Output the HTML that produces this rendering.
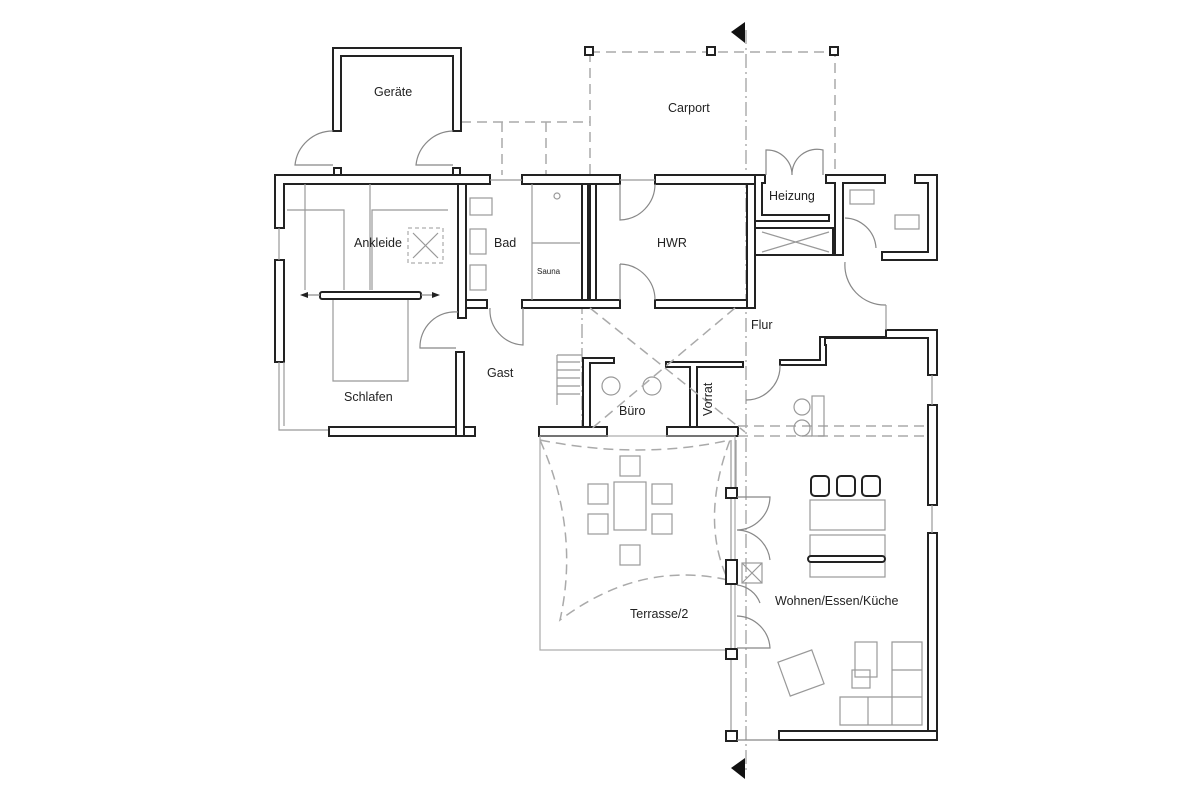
<!DOCTYPE html>
<html><head><meta charset="utf-8"><style>
html,body{margin:0;padding:0;background:#fff}
svg{display:block}
text{font-family:"Liberation Sans",sans-serif;fill:#222}
.w{fill:#fff;stroke:#222;stroke-width:2}
.g{fill:none;stroke:#999;stroke-width:1.2}
.d{fill:none;stroke:#aaa;stroke-width:1.5;stroke-dasharray:10 6}
.dd{fill:none;stroke:#999;stroke-width:1.2;stroke-dasharray:14 4 2 4}
.a{fill:none;stroke:#888;stroke-width:1.2}
</style></head><body>
<svg width="1200" height="796" viewBox="0 0 1200 796" xmlns="http://www.w3.org/2000/svg">
<!-- carport dashed -->
<path class="d" d="M590 52 H835 V175 M590 52 V175 M461 122 H590 M502 122 V175 M546 122 V175"/>
<line class="dd" x1="746" y1="30" x2="746" y2="770"/>
<line class="dd" x1="582" y1="300" x2="582" y2="436"/>
<rect class="w" x="585" y="47" width="8" height="8"/>
<rect class="w" x="707" y="47" width="8" height="8"/>
<rect class="w" x="830" y="47" width="8" height="8"/>
<polygon points="731,32 745,22 745,43" fill="#111"/>
<polygon points="731,768 745,758 745,779" fill="#111"/>
<!-- Geräte -->
<path class="w" d="M333 48 H461 V131 H453 V56 H341 V131 H333 Z"/>
<rect class="w" x="334" y="168" width="7" height="7"/>
<rect class="w" x="453" y="168" width="7" height="7"/>
<path class="a" d="M333 131 A38 38 0 0 0 295 165 H333 M453 131 A38 38 0 0 0 416 165 H453"/>
<!-- left block -->
<path class="w" d="M275 175 H490 V184 H284 V228 H275 Z"/>
<rect class="w" x="275" y="260" width="9" height="102"/>
<path class="g" d="M279 228 V260 M279 362 V430 H329 M284 362 V426"/>
<rect class="w" x="329" y="427" width="146" height="9"/>
<rect class="w" x="456" y="352" width="8" height="84"/>
<rect class="w" x="458" y="184" width="8" height="134"/>
<path class="w" d="M466 300 H487 V308 H466 Z"/>
<rect class="w" x="522" y="175" width="98" height="9"/>
<rect class="w" x="522" y="300" width="98" height="8"/>
<rect class="w" x="582" y="184" width="6" height="116"/>
<rect class="w" x="590" y="184" width="6" height="116"/>
<rect class="w" x="655" y="175" width="100" height="9"/>
<rect class="w" x="747" y="184" width="8" height="124"/>
<rect class="w" x="655" y="300" width="92" height="8"/>
<path class="g" d="M490 180 H522 M620 180 H655"/>
<!-- furniture left -->
<path class="g" d="M287 210 H344 V290 M372 290 V210 H448 M305 184 V290 M370 184 V290 M333 300 V381 H408 V300"/>
<rect x="408" y="228" width="35" height="35" fill="none" stroke="#999" stroke-dasharray="4 3"/>
<path class="g" d="M413 233 L438 258 M438 233 L413 258"/>
<rect class="w" x="320" y="292" width="101" height="7" rx="2"/>
<path d="M300 295 l8 -3 v6 Z M440 295 l-8 -3 v6 Z" fill="#222"/>
<line class="a" x1="308" y1="295" x2="320" y2="295"/><line class="a" x1="421" y1="295" x2="432" y2="295"/>
<!-- bad fixtures -->
<rect class="g" x="470" y="198" width="22" height="17"/>
<rect class="g" x="470" y="229" width="16" height="25"/>
<rect class="g" x="470" y="265" width="16" height="25"/>
<path class="g" d="M532 184 V300 M532 243 H580"/>
<circle class="g" cx="557" cy="196" r="3"/>
<!-- doors -->
<path class="a" d="M458 312 A35 35 0 0 0 420 348 H456 M490 308 A35 35 0 0 0 523 345 V308 M620 184 V220 A36 36 0 0 0 655 184 M620 264 V300 M620 264 A36 36 0 0 1 655 300"/>
<!-- stairs/Büro -->
<path class="g" d="M557 355 H582 M557 355 V405" />
<g class="g"><line x1="557" y1="362" x2="580" y2="362"/><line x1="557" y1="370" x2="580" y2="370"/><line x1="557" y1="378" x2="580" y2="378"/><line x1="557" y1="386" x2="580" y2="386"/><line x1="557" y1="394" x2="580" y2="394"/></g>
<path class="w" d="M583 358 H614 V363 H590 V436 H583 Z"/>
<path class="w" d="M666 362 H743 V367 H697 V436 H690 V367 H666 Z"/>
<rect class="w" x="539" y="427" width="68" height="9"/>
<rect class="w" x="667" y="427" width="71" height="9"/>
<circle class="g" cx="611" cy="386" r="9"/><circle class="g" cx="652" cy="386" r="9"/>
<path class="d" d="M590 308 L745 432 M735 308 L590 430"/>
<!-- Heizung -->
<path class="w" d="M755 175 H765 V183 H762 V215 H829 V221 H755 Z"/>
<path class="w" d="M826 175 H885 V183 H843 V255 H835 V183 H826 Z"/>
<rect class="w" x="755" y="228" width="78" height="27"/>
<path class="g" d="M762 232 L829 252 M829 232 L762 252"/>
<path class="a" d="M766 175 V150 A25 25 0 0 1 792 175 M823 175 V150 A25 25 0 0 0 792 175"/>
<path class="w" d="M915 175 H937 V260 H882 V252 H928 V183 H915 Z"/>
<rect class="g" x="850" y="190" width="24" height="14"/><rect class="g" x="895" y="215" width="24" height="14"/>
<path class="a" d="M845 218 A32 32 0 0 1 876 248 M845 262 A40 40 0 0 0 886 305"/>
<!-- Flur stepped wall -->
<path class="w" d="M780 360 H820 V337 H886 V330 H937 V375 H928 V338 H825 V345 H826 V365 H780 Z"/>
<rect class="w" x="928" y="405" width="9" height="100"/>
<rect class="w" x="928" y="533" width="9" height="207"/>
<rect class="w" x="779" y="731" width="158" height="9"/>
<path class="a" d="M780 365 A34 34 0 0 1 746 400"/>
<path class="d" d="M738 426 H928 M738 436 H928"/>
<path class="g" d="M886 305 V330 M932 375 V405 M932 505 V533"/>
<circle class="g" cx="802" cy="407" r="8"/><circle class="g" cx="802" cy="428" r="8"/>
<rect class="g" x="812" y="396" width="12" height="40"/>
<!-- Terrasse -->
<rect x="540" y="436" width="195" height="214" fill="none" stroke="#aaa" stroke-width="1.2"/>
<path class="d" d="M540 440 Q640 460 730 440 Q700 520 728 580 Q640 560 560 620 Q580 530 540 440"/>
<rect class="g" x="614" y="482" width="32" height="48"/>
<rect class="g" x="620" y="456" width="20" height="20"/><rect class="g" x="620" y="545" width="20" height="20"/>
<rect class="g" x="588" y="484" width="20" height="20"/><rect class="g" x="588" y="514" width="20" height="20"/>
<rect class="g" x="652" y="484" width="20" height="20"/><rect class="g" x="652" y="514" width="20" height="20"/>
<path class="g" d="M731 440 V740 M736 440 V488"/>
<rect class="w" x="726" y="488" width="11" height="10"/>
<rect class="w" x="726" y="560" width="11" height="24"/>
<rect class="w" x="726" y="649" width="11" height="10"/>
<rect class="w" x="726" y="731" width="11" height="10"/>
<rect class="g" x="742" y="563" width="20" height="20"/><path class="g" d="M742 563 L762 583 M762 563 L742 583"/>
<path class="a" d="M737 497 H770 A34 34 0 0 1 737 530 M737 530 A34 34 0 0 1 770 560 M737 585 A28 28 0 0 1 760 603 M737 616 A34 34 0 0 1 770 648 H737 M737 740 H779"/>
<!-- living furniture -->
<rect class="w" x="811" y="476" width="18" height="20" rx="4"/>
<rect class="w" x="837" y="476" width="18" height="20" rx="4"/>
<rect class="w" x="862" y="476" width="18" height="20" rx="4"/>
<rect class="g" x="810" y="500" width="75" height="30"/>
<rect class="g" x="810" y="535" width="75" height="42"/>
<rect class="w" x="808" y="556" width="77" height="6" rx="3"/>
<rect class="g" x="783" y="655" width="36" height="36" transform="rotate(-20 801 673)"/>
<rect class="g" x="855" y="642" width="22" height="35"/><rect class="g" x="852" y="670" width="18" height="18"/>
<path class="g" d="M840 725 V697 H892 V642 H922 V725 Z M892 697 V725 M868 697 V725 M892 670 H922 M892 697 H922"/>
<!-- labels -->
<g font-size="12.5">
<text x="374" y="96">Geräte</text>
<text x="668" y="112">Carport</text>
<text x="354" y="247">Ankleide</text>
<text x="494" y="247">Bad</text>
<text x="537" y="274" font-size="8">Sauna</text>
<text x="657" y="247">HWR</text>
<text x="769" y="200">Heizung</text>
<text x="751" y="329">Flur</text>
<text x="487" y="377">Gast</text>
<text x="344" y="401">Schlafen</text>
<text x="619" y="415">Büro</text>
<text x="712" y="416" transform="rotate(-90 712 416)">Vorrat</text>
<text x="630" y="618">Terrasse/2</text>
<text x="775" y="605">Wohnen/Essen/Küche</text>
</g>
</svg>
</body></html>
